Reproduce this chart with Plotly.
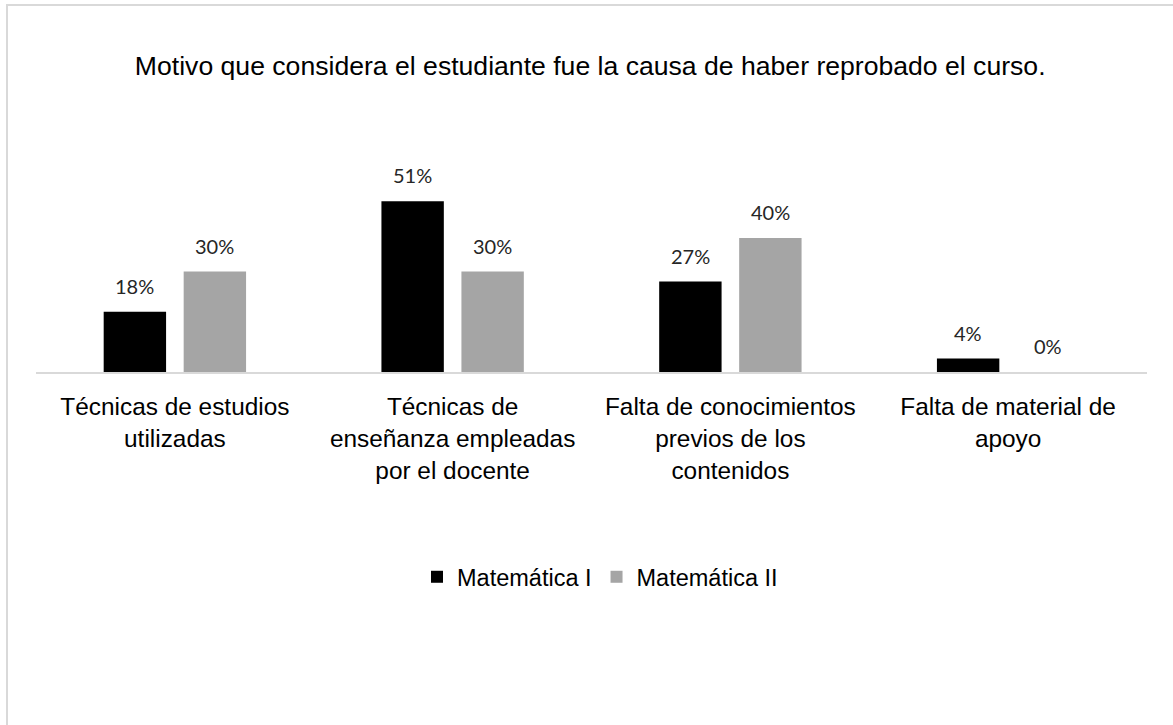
import plotly.graph_objects as go

categories = [
    "Técnicas de estudios<br>utilizadas",
    "Técnicas de<br>enseñanza empleadas<br>por el docente",
    "Falta de conocimientos<br>previos de los<br>contenidos",
    "Falta de material de<br>apoyo",
]
mat1 = [18, 51, 27, 4]
mat2 = [30, 30, 40, 0]
series_names = ["Matemática I", "Matemática II"]
colors = ["#000000", "#a5a5a5"]

W, H = 1173, 725
ML, MR, MT, MB = 36, 26, 171, 353
pw, ph = W - ML - MR, H - MT - MB

fig = go.Figure()
for name, vals, col in zip(series_names, [mat1, mat2], colors):
    fig.add_trace(go.Bar(x=categories, y=vals, name=name,
                         marker=dict(color=col, line=dict(width=0))))

# value labels above each bar
for i, vals in enumerate([mat1, mat2]):
    for c, v in zip(categories, vals):
        fig.add_annotation(x=c, y=v, text=f"{v}%", showarrow=False,
                           xshift=-40 if i == 0 else 40, yanchor="bottom", yshift=12,
                           font=dict(family="Lato, Carlito, sans-serif", size=20, color="#262626"))

# chart frame (left and top edges visible)
px = lambda x: (x - ML) / pw
py = lambda y: (H - MB - y) / ph
fig.add_shape(type="line", xref="paper", yref="paper", x0=px(7), x1=px(7), y0=py(4), y1=py(730),
              line=dict(color="#d9d9d9", width=2))
fig.add_shape(type="line", xref="paper", yref="paper", x0=px(6), x1=px(1180), y0=py(5), y1=py(5),
              line=dict(color="#d9d9d9", width=2))

fig.update_layout(
    width=W, height=H,
    margin=dict(l=ML, r=MR, t=MT, b=MB),
    paper_bgcolor="white", plot_bgcolor="white",
    barmode="group", bargap=0.424, bargroupgap=0.22,
    title=dict(text="Motivo que considera el estudiante fue la causa de haber reprobado el curso.",
               x=px(595), xanchor="center", y=1 - 66 / H, yanchor="middle",
               font=dict(family="Liberation Sans, Arial, sans-serif", size=26.6, color="#000000")),
    font=dict(family="Liberation Sans, Arial, sans-serif", color="#000000"),
    xaxis=dict(showline=True, linecolor="#d9d9d9", linewidth=2, ticks="", showgrid=False,
               tickfont=dict(size=24.4, color="#000000"), tickangle=0, ticklabelstandoff=12),
    yaxis=dict(range=[0, 60], visible=False, showgrid=False, zeroline=False),
    legend=dict(orientation="h", x=px(600), xanchor="center", y=py(577), yanchor="middle",
                font=dict(size=23.5, color="#000000"), traceorder="normal"),
)

fig.write_html("out.html", config={"displayModeBar": False},
               post_script="document.body.style.margin='0';")
